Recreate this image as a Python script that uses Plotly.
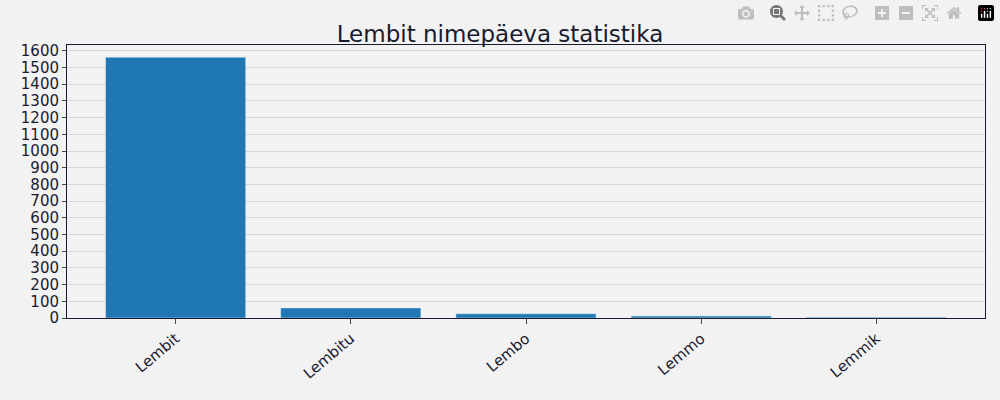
import plotly.graph_objects as go

names = ["Lembit", "Lembitu", "Lembo", "Lemmo", "Lemmik"]
counts = [1562, 60, 25, 12, 5]
yticks = list(range(0, 1700, 100))

fig = go.Figure(go.Bar(x=names, y=counts, marker_color="#1f77b4", width=0.8))
fig.update_layout(
    width=1000, height=400,
    paper_bgcolor="#f2f2f2", plot_bgcolor="#f2f2f2",
    margin=dict(l=67, r=15, t=45, b=82),
    title=dict(text="Lembit nimepäeva statistika", x=0.5, y=0.935, xanchor="center",
               font=dict(size=23, color="#1a1a2e", family="DejaVu Sans")),
    font=dict(family="DejaVu Sans", size=15, color="#1a1a2e"),
    showlegend=False, bargap=0.2,
)
fig.update_xaxes(tickangle=-40, ticks="outside", ticklen=5, showline=True, linecolor="#1a1a2e",
                 mirror=True, showgrid=False, range=[-0.62, 4.62])
fig.update_yaxes(tickvals=yticks, range=[0, 1635], ticks="outside", ticklen=4,
                 showline=True, linecolor="#1a1a2e", mirror=True,
                 gridcolor="#d5d5d5", zeroline=False)
fig.write_html("out.html", post_script="document.body.style.margin='0';")
